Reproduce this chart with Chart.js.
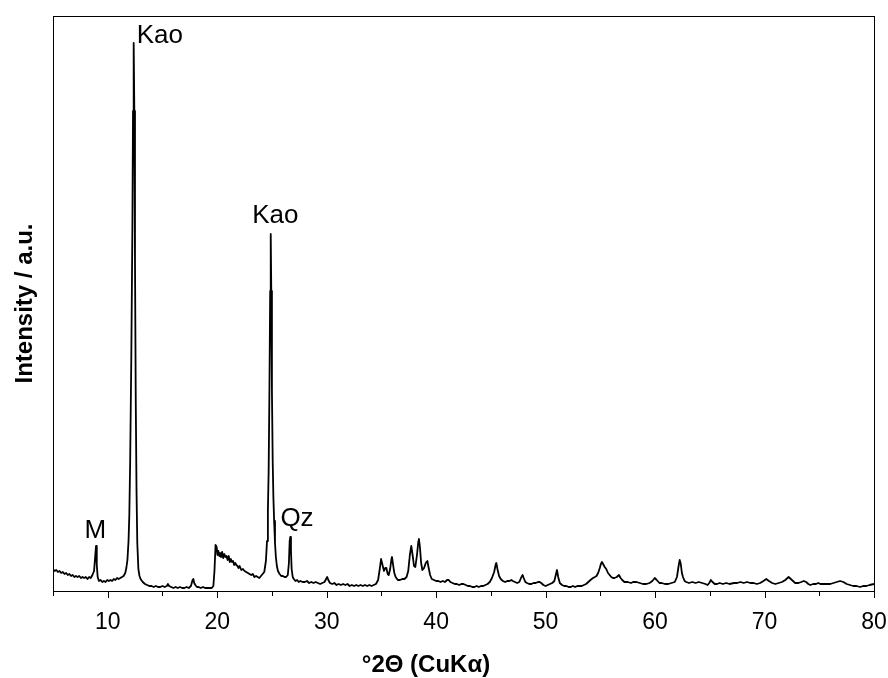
<!DOCTYPE html>
<html>
<head>
<meta charset="utf-8">
<script src="https://cdn.jsdelivr.net/npm/chart.js@4/dist/chart.umd.min.js"></script>
<style>
  body { margin: 0; background: #fff; }
  canvas { display: block; }
</style>
</head>
<body>
<canvas id="xrdChart" width="888" height="678"></canvas>
<script>
// 2-theta positions (degrees) and intensities (a.u.)
const twoTheta = [
  5.0, 5.15, 5.3, 5.45, 5.6, 5.75, 5.9, 6.05, 6.2, 6.35,
  6.5, 6.65, 6.8, 6.95, 7.1, 7.25, 7.4, 7.55, 7.7, 7.85,
  8.0, 8.15, 8.3, 8.45, 8.6, 8.75, 8.85, 8.93, 9.0, 9.08,
  9.2, 9.35, 9.5, 9.65, 9.8, 9.95, 10.1, 10.25, 10.4, 10.55,
  10.7, 10.85, 11.0, 11.15, 11.3, 11.45, 11.6, 11.7, 11.8, 11.9,
  11.97, 12.05, 12.15, 12.25, 12.31, 12.37, 12.43, 12.49, 12.56, 12.63,
  12.7, 12.8, 12.9, 13.0, 13.2, 13.4, 13.6, 13.8, 14.0, 14.2,
  14.4, 14.6, 14.8, 15.0, 15.2, 15.4, 15.5, 15.6, 15.8, 16.0,
  16.2, 16.4, 16.6, 16.8, 17.0, 17.2, 17.4, 17.6, 17.75, 17.82,
  17.9, 18.0, 18.15, 18.3, 18.5, 18.7, 18.9, 19.1, 19.3, 19.5,
  19.65, 19.75, 19.85, 19.95, 20.02, 20.1, 20.2, 20.28, 20.35, 20.45,
  20.55, 20.65, 20.75, 20.85, 20.95, 21.05, 21.15, 21.25, 21.35, 21.45,
  21.55, 21.65, 21.75, 21.85, 21.95, 22.05, 22.2, 22.35, 22.5, 22.65,
  22.8, 22.95, 23.1, 23.25, 23.4, 23.55, 23.7, 23.85, 24.0, 24.15,
  24.3, 24.45, 24.55, 24.63, 24.7, 24.77, 24.84, 24.89, 24.94, 25.0,
  25.07, 25.13, 25.2, 25.28, 25.36, 25.45, 25.55, 25.7, 25.85, 26.0,
  26.15, 26.3, 26.45, 26.55, 26.62, 26.68, 26.74, 26.8, 26.9, 27.0,
  27.15, 27.3, 27.45, 27.6, 27.8, 28.0, 28.2, 28.4, 28.6, 28.8,
  29.0, 29.2, 29.4, 29.6, 29.8, 29.95, 30.05, 30.15, 30.3, 30.5,
  30.7, 30.9, 31.1, 31.3, 31.5, 31.7, 31.9, 32.1, 32.3, 32.5,
  32.7, 32.9, 33.1, 33.3, 33.5, 33.7, 33.9, 34.1, 34.3, 34.5,
  34.7, 34.85, 34.97, 35.1, 35.24, 35.35, 35.45, 35.58, 35.67, 35.8,
  35.92, 35.97, 36.07, 36.18, 36.3, 36.5, 36.7, 36.9, 37.1, 37.3,
  37.45, 37.6, 37.73, 37.85, 37.98, 38.1, 38.25, 38.38, 38.43, 38.52,
  38.63, 38.74, 38.9, 39.05, 39.2, 39.3, 39.45, 39.6, 39.8, 40.0,
  40.2, 40.4, 40.6, 40.8, 41.0, 41.15, 41.3, 41.5, 41.7, 41.9,
  42.1, 42.3, 42.5, 42.7, 42.9, 43.1, 43.3, 43.5, 43.7, 43.9,
  44.1, 44.3, 44.5, 44.7, 44.9, 45.1, 45.3, 45.45, 45.5, 45.6,
  45.75, 45.9, 46.1, 46.3, 46.5, 46.7, 46.87, 47.0, 47.2, 47.4,
  47.6, 47.75, 47.9, 48.0, 48.15, 48.3, 48.5, 48.7, 48.9, 49.1,
  49.3, 49.46, 49.6, 49.8, 50.0, 50.2, 50.4, 50.6, 50.8, 50.95,
  51.04, 51.15, 51.3, 51.5, 51.7, 51.9, 52.1, 52.3, 52.5, 52.7,
  52.9, 53.1, 53.3, 53.5, 53.7, 53.9, 54.1, 54.33, 54.5, 54.65,
  54.8, 54.95, 55.05, 55.15, 55.25, 55.4, 55.54, 55.7, 55.85, 56.0,
  56.15, 56.3, 56.5, 56.7, 56.85, 57.0, 57.2, 57.5, 57.8, 58.0,
  58.3, 58.6, 58.9, 59.2, 59.5, 59.75, 59.97, 60.15, 60.4, 60.6,
  60.9, 61.2, 61.5, 61.8, 62.0, 62.15, 62.25, 62.35, 62.45, 62.55,
  62.7, 62.85, 63.1, 63.4, 63.7, 64.0, 64.3, 64.6, 64.8, 64.95,
  65.1, 65.25, 65.45, 65.66, 65.9, 66.2, 66.5, 66.8, 67.2, 67.5,
  67.8, 68.1, 68.4, 68.7, 69.0, 69.3, 69.6, 69.9, 70.16, 70.4,
  70.7, 70.98, 71.3, 71.6, 71.9, 72.2, 72.5, 72.8, 73.1, 73.35,
  73.58, 73.8, 74.0, 74.18, 74.45, 74.7, 74.9, 75.1, 75.4, 75.7,
  76.0, 76.3, 76.6, 76.9, 77.2, 77.5, 77.8, 78.1, 78.4, 78.75,
  79.0, 79.3, 79.6, 80.0
];
const intensity = [
  22, 20, 21, 19, 20, 18, 19, 17, 18, 16,
  17, 15, 16, 14, 15, 14, 15, 13, 14, 13,
  14, 12, 14, 13, 16, 20, 34, 45, 26, 14,
  10, 11, 9, 10, 9, 11, 10, 11, 10, 12,
  11, 13, 12, 13, 14, 15, 18, 23, 31, 50,
  75, 130, 230, 360, 480, 548, 480, 330, 190, 100,
  48, 22, 15, 12, 9, 7, 6, 5, 5, 4,
  5, 4, 4, 5, 4, 5, 7, 5, 4, 3,
  4, 3, 4, 3, 3, 4, 3, 5, 11, 12,
  8, 6, 4, 4, 3, 4, 3, 3, 3, 3,
  5, 20, 46, 44, 36, 40, 35, 38, 34, 39,
  33, 37, 34, 35, 31, 35, 29, 32, 29, 30,
  26, 28, 26, 25, 23, 25, 21, 22, 20, 19,
  18, 17, 16, 17, 14, 15, 14, 13, 15, 17,
  19, 30, 50, 80, 120, 200, 300, 357, 300, 200,
  130, 95, 70, 48, 34, 25, 20, 17, 15, 15,
  14, 14, 16, 28, 50, 54, 40, 22, 14, 12,
  10, 11, 9, 10, 9, 9, 10, 8, 9, 8,
  9, 8, 7, 8, 9, 12, 14, 11, 8, 7,
  8, 6, 7, 6, 7, 6, 7, 5, 6, 5,
  6, 5, 6, 5, 6, 5, 6, 5, 6, 7,
  11, 22, 32, 26, 20, 23, 23, 17, 16, 22,
  32, 34, 26, 18, 14, 11, 11, 12, 12, 14,
  20, 36, 45, 36, 25, 24, 36, 50, 52, 44,
  28, 21, 23, 28, 30, 24, 16, 12, 11, 10,
  10, 9, 10, 9, 11, 11, 9, 8, 7, 7,
  6, 7, 7, 6, 5, 5, 4, 4, 5, 4,
  5, 5, 6, 7, 9, 13, 19, 27, 28, 22,
  15, 12, 10, 9, 10, 10, 11, 10, 9, 8,
  9, 13, 16, 13, 9, 8, 7, 7, 8, 8,
  9, 9, 8, 6, 5, 6, 7, 8, 10, 17,
  21, 14, 8, 6, 5, 5, 4, 4, 5, 4,
  5, 5, 5, 6, 7, 9, 11, 13, 14, 15,
  18, 23, 27, 29, 27, 24, 22, 18, 16, 14,
  13, 13, 14, 16, 13, 11, 9, 9, 8, 9,
  9, 8, 7, 7, 8, 10, 13, 11, 8, 8,
  7, 7, 8, 9, 14, 25, 31, 27, 18, 14,
  10, 9, 8, 9, 8, 9, 8, 7, 6, 8,
  11, 9, 7, 7, 8, 7, 8, 7, 8, 8,
  9, 8, 9, 8, 8, 7, 8, 10, 12, 10,
  8, 7, 8, 9, 11, 14, 11, 8, 8, 9,
  10, 9, 7, 6, 7, 7, 8, 7, 7, 7,
  7, 8, 9, 10, 9, 7, 6, 5, 5, 4,
  5, 5, 6, 7
];

// phase labels and where they sit (2-theta, intensity)
const peakLabels = ["Kao", "Kao", "M", "Qz"];
const labelTheta = [12.65, 25.31, 8.86, 27.29];
const labelLevel = [548, 368, 53, 65];
const labelAlign = ["left", "center", "center", "center"];

const FONT = "'Liberation Sans', Arial, Helvetica, sans-serif";

const frameAndText = {
    id: "frameAndText",
    afterDraw(chart) {
        const { ctx, chartArea: a, scales } = chart;
        const x = scales.x, y = scales.y;
        ctx.save();
        ctx.strokeStyle = "#000";
        ctx.lineWidth = 1;
        ctx.strokeRect(Math.round(a.left) + 0.5, Math.round(a.top) + 0.5,
            Math.round(a.right - a.left), Math.round(a.bottom - a.top));

        // tick marks: long at labelled values, short between
        ctx.beginPath();
        for (let v = 5; v <= 80; v += 5) {
            const px = Math.round(x.getPixelForValue(v)) + 0.5;
            const len = v % 10 === 0 ? 7 : 5;
            ctx.moveTo(px, a.bottom);
            ctx.lineTo(px, a.bottom + len);
        }
        ctx.stroke();

        ctx.fillStyle = "#000";
        ctx.font = "26px " + FONT;
        ctx.textBaseline = "alphabetic";
        peakLabels.forEach((txt, i) => {
            ctx.textAlign = labelAlign[i];
            ctx.fillText(txt, x.getPixelForValue(labelTheta[i]), y.getPixelForValue(labelLevel[i]));
        });

        ctx.font = "bold 24px " + FONT;
        ctx.textAlign = "center";
        ctx.fillText("\u00b02\u0398 (CuK\u03b1)", 426, 672);

        ctx.translate(32, (a.top + a.bottom) / 2);
        ctx.rotate(-Math.PI / 2);
        ctx.fillText("Intensity / a.u.", 0, 0);
        ctx.restore();
    }
};

new Chart(document.getElementById("xrdChart").getContext("2d"), {
    type: "line",
    data: {
        datasets: [
            {
                data: twoTheta.map((t, i) => ({ x: t, y: intensity[i] })),
                borderColor: "#000",
                borderWidth: 1.8,
                borderJoinStyle: "round",
                pointRadius: 0,
                tension: 0,
                fill: false,
            },
        ],
    },
    options: {
        responsive: false,
        animation: false,
        devicePixelRatio: 1,
        layout: { padding: { left: 53, top: 16, right: 14, bottom: 0 } },
        plugins: { legend: { display: false }, tooltip: { enabled: false } },
        scales: {
            x: {
                type: "linear",
                min: 5,
                max: 80,
                grid: { display: false, drawTicks: false },
                border: { display: false },
                ticks: {
                    stepSize: 5,
                    autoSkip: false,
                    maxRotation: 0,
                    padding: 18,
                    color: "#000",
                    font: { family: FONT, size: 23 },
                    callback: (v) => (v % 10 === 0 ? v : ""),
                },
                afterFit: (s) => {
                    s.height = 87;
                    s.paddingLeft = 0;
                    s.paddingRight = 0;
                },
            },
            y: {
                display: false,
                min: 0,
                max: 575,
            },
        },
    },
    plugins: [frameAndText],
});
</script>
</body>
</html>
